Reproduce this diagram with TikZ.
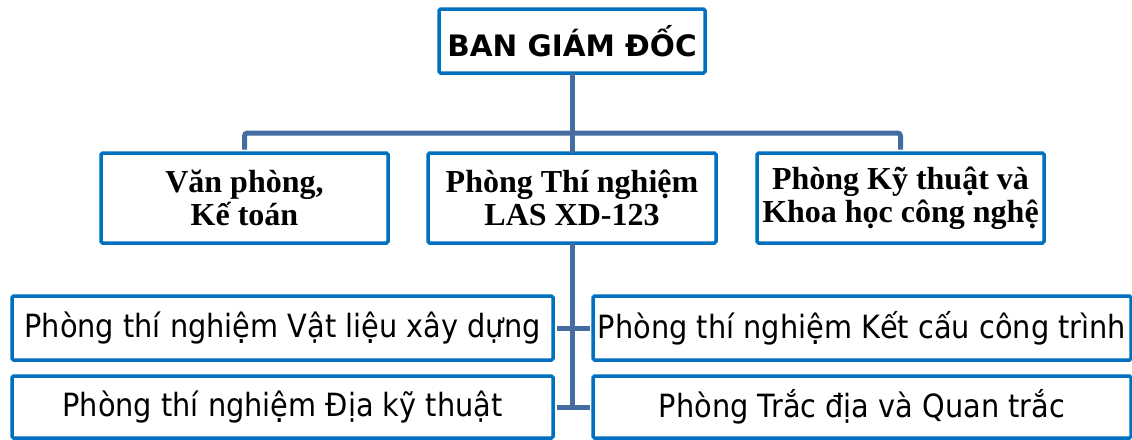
\documentclass[tikz,border=0pt]{standalone}
\usepackage{fontspec}
\setmainfont{Liberation Serif}
\newfontfamily\tah[FakeStretch=0.9]{DejaVu Sans}
\newfontfamily\tahb{DejaVu Sans}
\definecolor{boxblue}{RGB}{0,112,192}
\definecolor{connblue}{RGB}{68,108,160}
\begin{document}
\begin{tikzpicture}[x=1pt,y=-1pt,
  box/.style={draw=boxblue, line width=3.5pt, rounded corners=1.5pt, fill=white, inner sep=0pt, align=center},
  topbox/.style={box, minimum width=266pt, minimum height=64pt, font=\tahb\bfseries\fontsize{29.5}{32}\selectfont},
  midbox/.style={box, minimum width=287pt, minimum height=90pt, font=\bfseries\fontsize{32}{33}\selectfont},
  lowbox/.style={box, minimum height=64pt, font=\tah\fontsize{32}{34}\selectfont},
  conn/.style={draw=connblue, line width=5pt}]
\useasboundingbox (0,0) rectangle (1132,439);
% connectors first (behind boxes)
\node[topbox] (top) at (572,41) {BAN GIÁM ĐỐC};
\node[midbox] (vp) at (244.5,198) {Văn phòng,\\Kế toán};
\node[midbox, minimum width=288pt] (las) at (572,198) {Phòng Thí nghiệm\\LAS XD-123};
\node[midbox] (kt) at (900.5,198) {Phòng Kỹ thuật và\\Khoa học công nghệ};
\coordinate (bar) at (572,133);
\begin{scope}[on background layer/.style={}]
\end{scope}
\node[lowbox, minimum width=541pt] (b1) at (282.5,328) {Phòng thí nghiệm Vật liệu xây dựng};
\node[lowbox, minimum width=538pt] (b2) at (862,328) {Phòng thí nghiệm Kết cấu công trình};
\node[lowbox, minimum width=541pt, minimum height=62pt] (b3) at (282.5,407) {Phòng thí nghiệm Địa kỹ thuật};
\node[lowbox, minimum width=538pt, minimum height=62pt] (b4) at (862,407) {Phòng Trắc địa và Quan trắc};
\draw[conn, rounded corners=3pt] ([yshift=1.75pt]vp.north) |- (bar) -| ([yshift=1.75pt]kt.north);
\draw[conn] ([yshift=1.75pt]top.south) -- ([yshift=-1.75pt]las.north);
\draw[conn] ([yshift=1.75pt]las.south) -- (las.south |- b3.east) coordinate (vend);
\draw[conn] ([xshift=1.75pt]b1.east) -- ([xshift=-1.75pt]b2.west);
\draw[conn] ([xshift=1.75pt]b3.east) -- ([xshift=-1.75pt]b4.west);
\end{tikzpicture}
\end{document}
